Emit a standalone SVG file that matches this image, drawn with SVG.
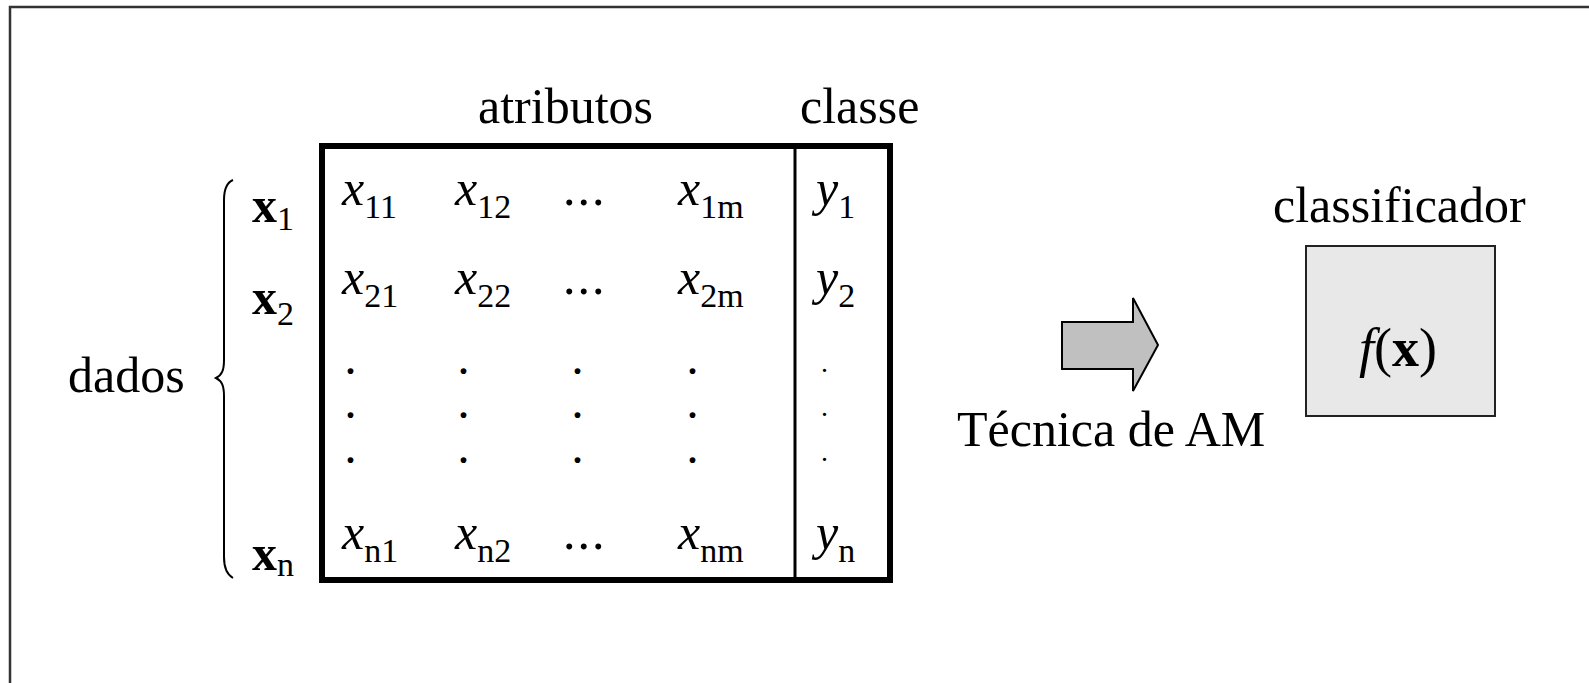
<svg xmlns="http://www.w3.org/2000/svg" width="1589" height="683" viewBox="0 0 1589 683">
<style>
text{font-family:"Liberation Serif","Times New Roman",serif;fill:#000}
.lbl{font-size:50px}
.m{font-size:50px}
.i{font-style:italic}
.b{font-weight:bold}
.s{font-size:34px;font-style:normal;font-weight:normal}
.ell{font-size:50px;letter-spacing:2px}
.dot{font-size:36px;font-weight:bold}
.sdot{font-size:28px}
</style>
<rect x="0" y="0" width="1589" height="683" fill="#fff"/>
<path d="M10,700 V7 H1600" fill="none" stroke="#333" stroke-width="2.5"/>

<g id="labels">
<text class="lbl" x="478" y="123">atributos</text>
<text class="lbl" x="800" y="123">classe</text>
<text class="lbl" x="68" y="392">dados</text>
</g>

<g id="brace">
<path d="M233,180 C226,183 224,190 224,200 L224,360 C224,370 222,375 216,378 C222,381 224,386 224,396 L224,557 C224,567 226,574 233,578" fill="none" stroke="#000" stroke-width="2"/>
</g>

<g id="rowlabels">
<text class="m b" x="252" y="222">x<tspan class="s" dy="8">1</tspan></text>
<text class="m b" x="252" y="314">x<tspan class="s" dy="11">2</tspan></text>
<text class="m b" x="252" y="570">x<tspan class="s" dy="6">n</tspan></text>
</g>

<g id="matrix">
<rect x="322" y="146" width="568" height="434" fill="none" stroke="#000" stroke-width="6"/>
<line x1="795" y1="146" x2="795" y2="580" stroke="#000" stroke-width="3"/>
<text class="m i" x="342" y="205">x<tspan class="s" dy="13">11</tspan></text>
<text class="m i" x="455" y="205">x<tspan class="s" dy="13">12</tspan></text>
<text class="ell" x="563" y="205">...</text>
<text class="m i" x="678" y="205">x<tspan class="s" dy="13">1m</tspan></text>
<text class="m i" x="816" y="205">y<tspan class="s" dy="13">1</tspan></text>

<text class="m i" x="342" y="294">x<tspan class="s" dy="13">21</tspan></text>
<text class="m i" x="455" y="294">x<tspan class="s" dy="13">22</tspan></text>
<text class="ell" x="563" y="294">...</text>
<text class="m i" x="678" y="294">x<tspan class="s" dy="13">2m</tspan></text>
<text class="m i" x="816" y="294">y<tspan class="s" dy="13">2</tspan></text>

<text class="dot" x="346" y="374">.<tspan x="346" dy="44">.</tspan><tspan x="346" dy="45">.</tspan></text>
<text class="dot" x="459" y="374">.<tspan x="459" dy="44">.</tspan><tspan x="459" dy="45">.</tspan></text>
<text class="dot" x="573" y="374">.<tspan x="573" dy="44">.</tspan><tspan x="573" dy="45">.</tspan></text>
<text class="dot" x="688" y="374">.<tspan x="688" dy="44">.</tspan><tspan x="688" dy="45">.</tspan></text>
<text class="sdot" x="821" y="372">.<tspan x="821" dy="44">.</tspan><tspan x="821" dy="45">.</tspan></text>

<text class="m i" x="342" y="549">x<tspan class="s" dy="13">n1</tspan></text>
<text class="m i" x="455" y="549">x<tspan class="s" dy="13">n2</tspan></text>
<text class="ell" x="563" y="549">...</text>
<text class="m i" x="678" y="549">x<tspan class="s" dy="13">nm</tspan></text>
<text class="m i" x="816" y="549">y<tspan class="s" dy="13">n</tspan></text>
</g>

<g id="connectors">
<path d="M1062,322 H1133 V298 L1158,345 L1133,391 V369 H1062 Z" fill="#c0c0c0" stroke="#000" stroke-width="2" stroke-linejoin="miter"/>
<text class="lbl" x="957" y="446">Técnica de AM</text>
</g>

<g id="classificador">
<text class="lbl" x="1273" y="222">classificador</text>
<rect x="1306" y="246" width="189" height="170" fill="#e8e8e8" stroke="#222" stroke-width="2"/>
<text x="1359" y="366" style="font-size:54px"><tspan class="i">f</tspan>(<tspan class="b">x</tspan>)</text>
</g>
</svg>
